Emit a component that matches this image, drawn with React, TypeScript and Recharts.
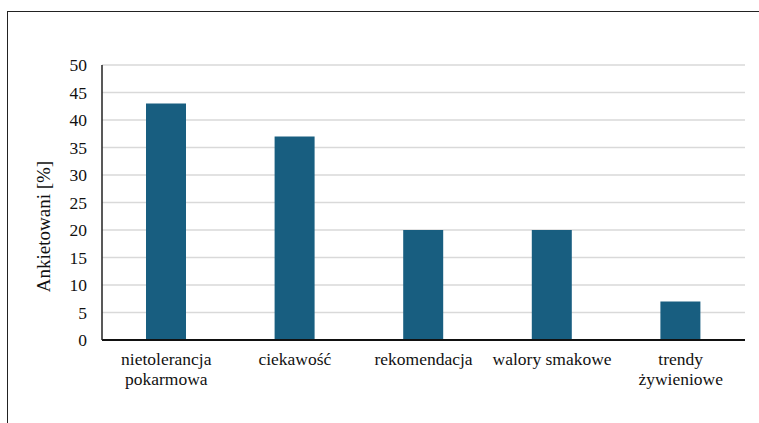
import React from 'react';
import { BarChart, Bar, XAxis, YAxis, CartesianGrid } from 'recharts';

const categories = ['nietolerancja pokarmowa', 'ciekawość', 'rekomendacja', 'walory smakowe', 'trendy żywieniowe'];
const categoryLines = [['nietolerancja', 'pokarmowa'], ['ciekawość'], ['rekomendacja'], ['walory smakowe'], ['trendy', 'żywieniowe']];
const values = [43, 37, 20, 20, 7];
const yTicks = [0, 5, 10, 15, 20, 25, 30, 35, 40, 45, 50];
const yTitle = 'Ankietowani [%]';

const data = categories.map((c, i) => ({ name: c, value: values[i] }));

const FONT = 'Liberation Serif';

const CategoryTick = (props: any) => {
  const { x, y, payload } = props;
  const idx = categories.indexOf(payload.value);
  const lines = idx >= 0 ? categoryLines[idx] : [String(payload.value)];
  return (
    <text x={x} y={y} textAnchor="middle" fontFamily={FONT} fontSize={17.5} fill="#111">
      {lines.map((l, i) => (
        <tspan key={i} x={x} dy={i === 0 ? 25 : 20}>{l}</tspan>
      ))}
    </text>
  );
};

const YTick = (props: any) => {
  const { x, y, payload } = props;
  return (
    <text x={x} y={y} textAnchor="end" dominantBaseline="central" fontFamily={FONT} fontSize={17.5} fill="#111">
      {payload.value}
    </text>
  );
};

const YTitle = (props: any) => {
  const vb = props.viewBox || { x: 0, y: 0, width: 0, height: 0 };
  const cx = vb.x + 36;
  const cy = vb.y + vb.height / 2 + 24;
  return (
    <text
      transform={`translate(${cx}, ${cy}) rotate(-90)`}
      textAnchor="middle"
      dominantBaseline="central"
      fontFamily={FONT}
      fontSize={19}
      fill="#111"
    >
      {yTitle}
    </text>
  );
};

export default function App() {
  return (
    <div style={{ position: 'absolute', left: 0, top: 0, width: 759, height: 423, overflow: 'hidden', background: '#fff' }}>
      <div
        style={{
          position: 'absolute',
          left: 7,
          top: 11,
          width: 800,
          height: 500,
          borderLeft: '1.5px solid #222',
          borderTop: '1.5px solid #222',
          boxSizing: 'border-box',
        }}
      />
      <div style={{ position: 'absolute', left: 0, top: 0 }}>
        <BarChart width={759} height={423} data={data} margin={{ top: 65, right: 14, bottom: 33, left: 7 }}>
          <CartesianGrid vertical={false} stroke="#d9d9d9" strokeWidth={1.5} />
          <XAxis
            dataKey="name"
            height={50}
            tickLine={false}
            tickSize={0}
            tickMargin={0}
            interval={0}
            tick={<CategoryTick />}
            axisLine={{ stroke: '#111', strokeWidth: 2 }}
          />
          <XAxis
            xAxisId="top"
            orientation="top"
            dataKey="name"
            height={0}
            tick={false}
            tickLine={false}
            axisLine={{ stroke: '#333', strokeWidth: 2 }}
          />
          <YAxis
            width={95}
            domain={[0, 50]}
            ticks={yTicks}
            tickLine={false}
            tickSize={0}
            tickMargin={15}
            interval={0}
            tick={<YTick />}
            axisLine={{ stroke: '#222', strokeWidth: 1.5 }}
            label={<YTitle />}
          />
          <YAxis
            yAxisId="right"
            orientation="right"
            width={0}
            domain={[0, 50]}
            tick={false}
            tickLine={false}
            axisLine={{ stroke: '#333', strokeWidth: 2 }}
          />
          <Bar dataKey="value" fill="#185e80" barSize={40} isAnimationActive={false} />
        </BarChart>
      </div>
    </div>
  );
}
